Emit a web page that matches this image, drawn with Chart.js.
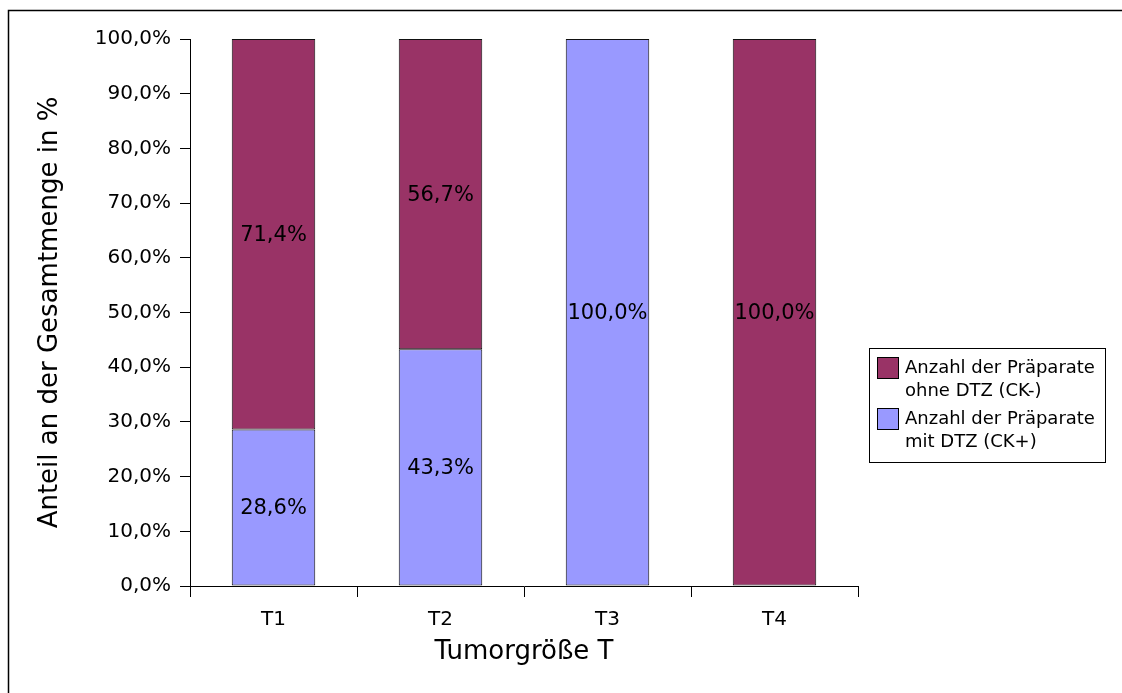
<!DOCTYPE html>
<html>
<head>
<meta charset="utf-8">
<script src="https://cdn.jsdelivr.net/npm/chart.js@4/dist/chart.umd.min.js"></script>
<style>
  html, body { margin: 0; padding: 0; background: #fff; }
  canvas { display: block; }
</style>
</head>
<body>
<canvas id="c" width="1122" height="693"></canvas>
<script>
// Tumour size categories
const categories = ['T1', 'T2', 'T3', 'T4'];
// Share of specimens with DTZ (CK+), in percent
const mitDTZ = [28.6, 43.3, 100.0, 0];
// Share of specimens without DTZ (CK-), in percent
const ohneDTZ = [71.4, 56.7, 0, 100.0];
// Series names (legend lines)
const nameMit = ['Anzahl der Präparate', 'mit DTZ (CK+)'];
const nameOhne = ['Anzahl der Präparate', 'ohne DTZ (CK-)'];
// Y axis ticks
const yTicks = [0, 10, 20, 30, 40, 50, 60, 70, 80, 90, 100];

const FONT = 'DejaVu Sans';
const fmt = v => v.toFixed(1).replace('.', ',') + '%';
// empty segments are not drawn at all
const segs = arr => arr.map(v => (v > 0 ? v : null));

// Outer frame around the whole figure
const framePlugin = {
  id: 'frame',
  beforeDraw(chart) {
    const ctx = chart.ctx;
    ctx.save();
    ctx.fillStyle = '#fff';
    ctx.fillRect(0, 0, chart.width, chart.height);
    ctx.strokeStyle = '#000';
    ctx.lineWidth = 1.5;
    ctx.strokeRect(8.5, 10.5, 1400, 1000);
    ctx.restore();
  }
};

// Percentage labels centred in each bar segment
const valueLabels = {
  id: 'valueLabels',
  afterDatasetsDraw(chart) {
    const ctx = chart.ctx;
    ctx.save();
    ctx.font = '21px "' + FONT + '"';
    ctx.fillStyle = '#000';
    ctx.textAlign = 'center';
    ctx.textBaseline = 'middle';
    chart.data.datasets.forEach((ds, i) => {
      const meta = chart.getDatasetMeta(i);
      meta.data.forEach((bar, j) => {
        const v = ds.data[j];
        if (!v) return;
        ctx.fillText(fmt(v), bar.x, (bar.y + bar.base) / 2 + 1);
      });
    });
    ctx.restore();
  }
};

// Boxed legend to the right of the plot
const boxLegend = {
  id: 'boxLegend',
  afterDraw(chart) {
    const ctx = chart.ctx;
    const ds = chart.data.datasets.slice().reverse();
    const x0 = 869, y0 = 348, w = 236, h = 114;
    ctx.save();
    ctx.strokeStyle = '#000';
    ctx.lineWidth = 1;
    ctx.fillStyle = '#fff';
    ctx.fillRect(x0, y0, w, h);
    ctx.strokeRect(x0 + 0.5, y0 + 0.5, w, h);
    ctx.font = '18px "' + FONT + '"';
    ctx.textAlign = 'left';
    ctx.textBaseline = 'middle';
    ds.forEach((d, k) => {
      const top = y0 + 9 + k * 51;
      ctx.fillStyle = d.backgroundColor;
      ctx.fillRect(x0 + 8, top, 21, 21);
      ctx.strokeStyle = '#000';
      ctx.strokeRect(x0 + 8.5, top + 0.5, 21, 21);
      ctx.fillStyle = '#000';
      d.legendLines.forEach((line, n) => {
        ctx.fillText(line, x0 + 36, top + 11 + n * 23);
      });
    });
    ctx.restore();
  }
};

new Chart(document.getElementById('c'), {
  type: 'bar',
  data: {
    labels: categories,
    datasets: [
      {
        label: nameMit.join(' '),
        legendLines: nameMit,
        data: segs(mitDTZ),
        backgroundColor: '#9999FF',
        borderColor: '#111',
        borderWidth: 1,
        borderSkipped: false,
        barPercentage: 0.5,
        categoryPercentage: 1.0
      },
      {
        label: nameOhne.join(' '),
        legendLines: nameOhne,
        data: segs(ohneDTZ),
        backgroundColor: '#993366',
        borderColor: '#111',
        borderWidth: 1,
        borderSkipped: false,
        barPercentage: 0.5,
        categoryPercentage: 1.0
      }
    ]
  },
  options: {
    responsive: false,
    animation: false,
    devicePixelRatio: 1,
    layout: { padding: { left: 20, top: 39, right: 264, bottom: 20 } },
    plugins: {
      legend: { display: false },
      tooltip: { enabled: false }
    },
    scales: {
      x: {
        stacked: true,
        afterFit(scale) { scale.height = 87; },
        grid: { offset: true, drawOnChartArea: false, tickLength: 11, color: '#000' },
        border: { color: '#000', width: 1 },
        ticks: { color: '#000', padding: 11, font: { family: FONT, size: 20 } },
        title: {
          display: true,
          text: 'Tumorgröße T',
          color: '#000',
          font: { family: FONT, size: 26 },
          padding: { top: 0, bottom: 5 }
        }
      },
      y: {
        stacked: true,
        min: 0,
        max: 100,
        afterFit(scale) { scale.width = 170; },
        afterBuildTicks(scale) { scale.ticks = yTicks.map(v => ({ value: v })); },
        grid: { drawOnChartArea: false, tickLength: 10, color: '#000' },
        border: { color: '#000', width: 1 },
        ticks: {
          color: '#000',
          padding: 9,
          font: { family: FONT, size: 20 },
          callback: v => fmt(v)
        },
        title: {
          display: true,
          text: 'Anteil an der Gesamtmenge in %',
          color: '#000',
          font: { family: FONT, size: 26 },
          padding: { top: 15, bottom: 0 }
        }
      }
    }
  },
  plugins: [framePlugin, valueLabels, boxLegend]
});
</script>
</body>
</html>
